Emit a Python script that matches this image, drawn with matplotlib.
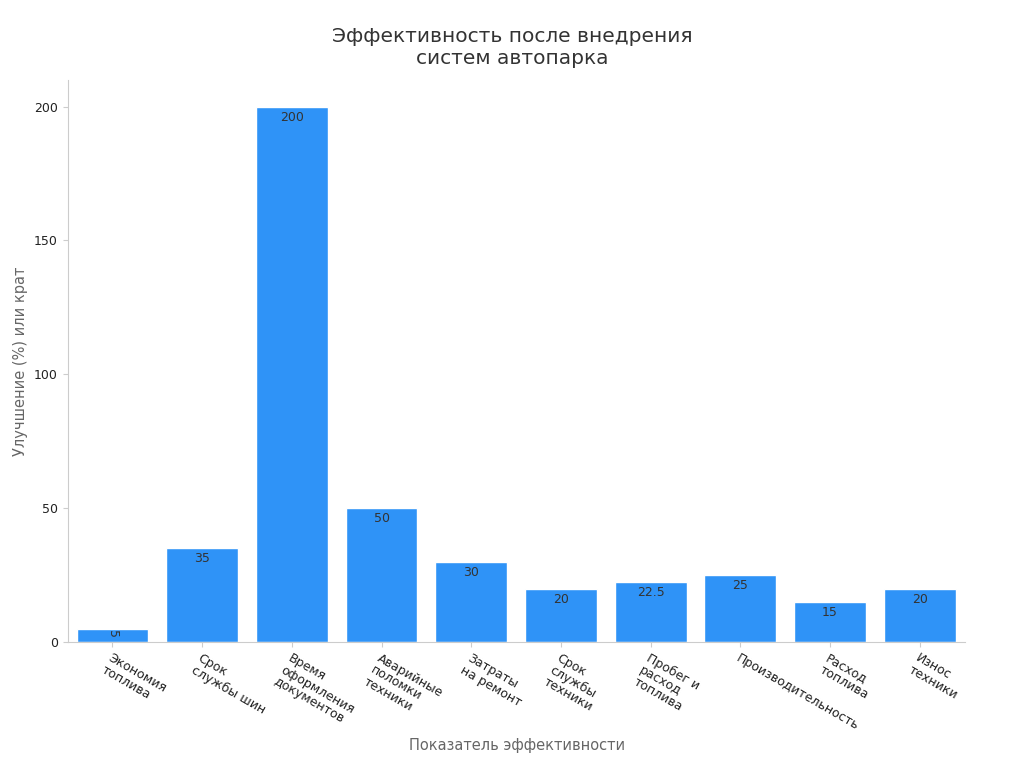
import matplotlib
matplotlib.use("Agg")
import matplotlib.pyplot as plt

categories = ["Экономия\nтоплива", "Срок\nслужбы шин", "Время\nоформления\nдокументов",
              "Аварийные\nполомки\nтехники", "Затраты\nна ремонт", "Срок\nслужбы\nтехники",
              "Пробег и\nрасход\nтоплива", "Производительность", "Расход\nтоплива", "Износ\nтехники"]
values = [5, 35, 200, 50, 30, 20, 22.5, 25, 15, 20]
labels = ["5", "35", "200", "50", "30", "20", "22.5", "25", "15", "20"]

fig = plt.figure(figsize=(10.24, 7.68), dpi=100)
ax = fig.add_axes([0.066, 0.164, 0.876, 0.732])
x = range(len(values))
bars = ax.bar(x, values, width=0.8, color="#2f93f7", edgecolor="white", linewidth=1)
for i, (b, v, l) in enumerate(zip(bars, values, labels)):
    if v < 10:
        ax.text(b.get_x() + b.get_width()/2, v - 0.5, l, ha="center", va="top",
                rotation=-90, fontsize=9, color="#333333")
    else:
        ax.text(b.get_x() + b.get_width()/2, v - 1.5, l, ha="center", va="top",
                fontsize=9, color="#333333")
ax.set_xlim(-0.5, 9.5)
ax.set_ylim(0, 210)
ax.set_yticks([0, 50, 100, 150, 200])
ax.set_xticks(list(x))
ax.set_xticklabels(categories, rotation=-30, ha="left", rotation_mode="anchor",
                   fontsize=9, color="#222222", linespacing=1.05)
ax.tick_params(axis="y", labelsize=9, colors="#222222")
ax.tick_params(axis="both", color="#cccccc")
for s in ["top", "right"]:
    ax.spines[s].set_visible(False)
for s in ["left", "bottom"]:
    ax.spines[s].set_color("#cccccc")
fig.text(0.505, 0.023, "Показатель эффективности", fontsize=10.5, color="#666666", ha="center")
ax.set_ylabel("Улучшение (%) или крат", fontsize=10.5, color="#666666")
fig.suptitle("Эффективность после внедрения\nсистем автопарка", fontsize=14.5, color="#333333", y=0.965)
fig.savefig("out.png", dpi=100)
